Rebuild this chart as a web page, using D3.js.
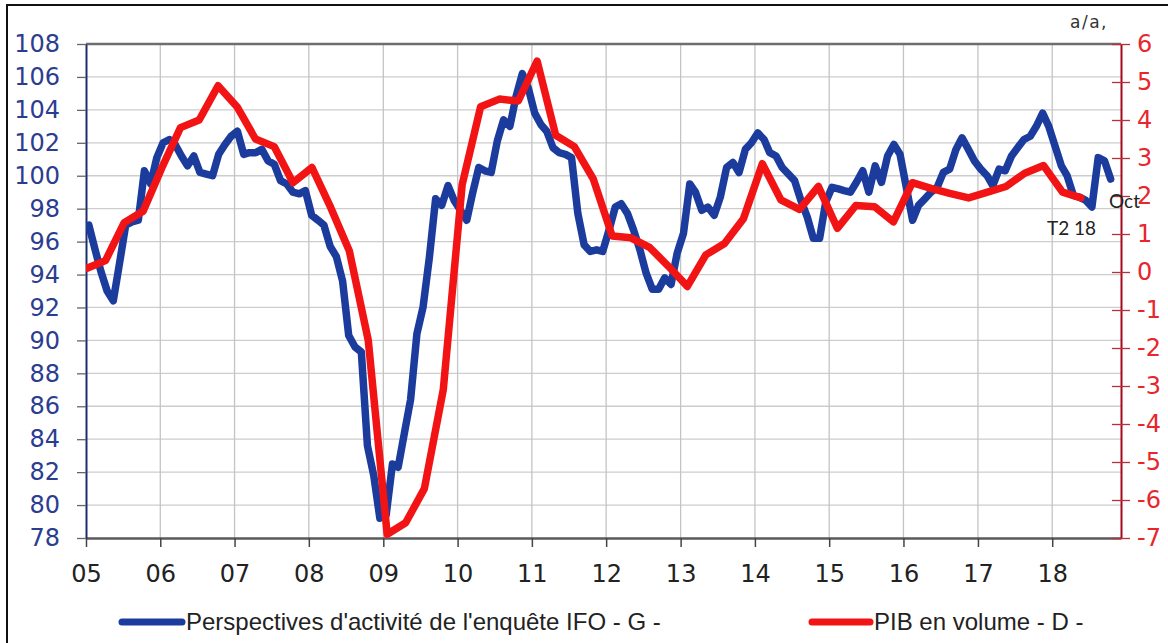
<!DOCTYPE html>
<html>
<head>
<meta charset="utf-8">
<script src="https://cdn.jsdelivr.net/npm/d3@7"></script>
<style>
  body { margin: 0; background: #fff; }
  svg { display: block; }
</style>
</head>
<body>
<div id="chart"></div>
<script>

/* DATA */

// year ticks on the bottom axis
const years = d3.range(2005, 2019);
const yearLabels = ["05", "06", "07", "08", "09", "10", "11", "12", "13", "14", "15", "16", "17", "18"];

// left axis (IFO) and right axis (GDP y/y)
const leftTicks = d3.range(78, 109, 2);
const rightTicks = d3.range(-7, 7);

// IFO business expectations, monthly, Jan 2005 -> Oct 2018
const ifo = [
  97.0, 95.5, 94.2, 93.0, 92.4, 94.7, 97.0, 97.2, 97.3, 100.3, 99.5, 101.1,
  102.0, 102.2, 101.9, 101.2, 100.6, 101.2, 100.2, 100.1, 100.0, 101.3, 101.9, 102.4,
  102.7, 101.3, 101.4, 101.4, 101.6, 100.9, 100.7, 99.7, 99.5, 99.0, 98.9, 99.1,
  97.6, 97.3, 97.0, 95.7, 95.1, 93.6, 90.3, 89.6, 89.3, 83.6, 81.8, 79.2,
  79.4, 82.5, 82.3, 84.4, 86.4, 90.4, 92.0, 95.0, 98.6, 98.2, 99.4, 98.5,
  97.9, 97.3, 98.9, 100.5, 100.3, 100.2, 102.1, 103.4, 103.0, 104.8, 106.2, 105.3,
  103.8, 103.1, 102.7, 101.7, 101.4, 101.3, 101.1, 97.7, 95.8, 95.4, 95.5, 95.4,
  96.7, 98.1, 98.3, 97.7, 96.7, 95.5, 94.1, 93.1, 93.1, 93.8, 93.4, 95.3,
  96.5, 99.5, 99.0, 97.9, 98.1, 97.6, 98.7, 100.5, 100.8, 100.2, 101.6, 102.0,
  102.6, 102.2, 101.4, 101.2, 100.5, 100.1, 99.7, 98.5, 97.5, 96.2, 96.2, 98.4,
  99.3, 99.2, 99.1, 99.0, 99.6, 100.3, 99.0, 100.6, 99.6, 101.2, 101.9, 101.3,
  99.3, 97.3, 98.2, 98.6, 99.0, 99.3, 100.2, 100.4, 101.6, 102.3, 101.6, 100.9,
  100.4, 100.0, 99.4, 100.4, 100.3, 101.2, 101.7, 102.2, 102.4, 103.0, 103.8, 103.0,
  101.8, 100.6, 100.0, 98.8, 98.7, 98.5, 98.1, 101.1, 100.9, 99.8
];

// GDP in volume, y/y %, quarterly, Q1 2005 -> Q2 2018
const pib = [
  0.1, 0.3, 1.3, 1.6,
  2.75, 3.8, 4.0, 4.9,
  4.35, 3.5, 3.3, 2.35,
  2.75, 1.7, 0.55, -1.8,
  -6.9, -6.6, -5.7, -3.1,
  2.3, 4.35, 4.55, 4.5,
  5.55, 3.6, 3.3, 2.45,
  0.95, 0.9, 0.65, 0.15,
  -0.38, 0.45, 0.75, 1.4,
  2.85, 1.9, 1.65, 2.25,
  1.15, 1.75, 1.72, 1.32,
  2.35, 2.2, 2.07, 1.95,
  2.1, 2.25, 2.6, 2.8,
  2.1, 1.95
];

const legendLabels = ["Perspectives d'activit\u00e9 de l'enqu\u00eate IFO - G -", "PIB en volume - D -"];

/* CONSTANTS */

const width = 1168;
const height = 643;
const plot = { left: 86, right: 1121, top: 44, bottom: 538 };

const blue = "#1b3c9d";
const red = "#f21414";
const tickFont = "'DejaVu Sans', Verdana, sans-serif";
const textFont = "'Liberation Sans', Arial, sans-serif";

const ifoData = ifo.map((v, i) => ({ date: new Date(2005, i, 15), value: v }));
const pibData = pib.map((v, i) => ({ date: new Date(2005, i * 3, 1), value: v }));

// SCALES =================================================

const xScale = d3.scaleTime()
  .domain([new Date(2005, 0, 1), new Date(2018, 11, 5)])
  .range([plot.left, plot.right]);

// quarterly series sits on its own (secondary) category axis
const xQuarter = d3.scaleTime()
  .domain([new Date(2005, 0, 1), new Date(2018, 3, 1)])
  .range([plot.left + 1, 1081]);

const yLeft = d3.scaleLinear()
  .domain([78, 108])
  .range([plot.bottom, plot.top]);

const yRight = d3.scaleLinear()
  .domain([-7, 6])
  .range([plot.bottom, plot.top]);

// SVG ====================================================

const svg = d3.select("#chart")
  .append("svg")
  .attr("width", width)
  .attr("height", height);

// outer frame
svg.append("rect")
  .attr("x", 7)
  .attr("y", 5)
  .attr("width", width + 20)
  .attr("height", height + 20)
  .attr("fill", "#fff")
  .attr("stroke", "#111")
  .attr("stroke-width", 2);

// GRID ---------------------------------------------------
svg.append("g")
  .selectAll("line")
  .data(leftTicks.slice(1, -1))
  .join("line")
  .attr("x1", plot.left)
  .attr("x2", plot.right)
  .attr("y1", d => yLeft(d))
  .attr("y2", d => yLeft(d))
  .attr("stroke", "#cdcdcd")
  .attr("stroke-width", 1.3);

svg.append("g")
  .selectAll("line")
  .data(years.slice(1))
  .join("line")
  .attr("x1", d => xScale(new Date(d, 0, 1)))
  .attr("x2", d => xScale(new Date(d, 0, 1)))
  .attr("y1", plot.top)
  .attr("y2", plot.bottom)
  .attr("stroke", "#c4c4c4")
  .attr("stroke-width", 1.3);

// top border of the plot
svg.append("line")
  .attr("x1", plot.left)
  .attr("x2", plot.right)
  .attr("y1", plot.top)
  .attr("y2", plot.top)
  .attr("stroke", "#6e6e6e")
  .attr("stroke-width", 2.5);

// AXES ---------------------------------------------------

const xAxis = d3.axisBottom(xScale)
  .tickValues(years.map(y => new Date(y, 0, 1)))
  .tickFormat((d, i) => yearLabels[i])
  .tickSizeInner(9)
  .tickSizeOuter(0)
  .tickPadding(18);

const gx = svg.append("g")
  .attr("transform", `translate(0, ${plot.bottom})`)
  .call(xAxis);
gx.select(".domain").attr("stroke", "#5a5a5a").attr("stroke-width", 2.5);
gx.selectAll(".tick line").attr("stroke", "#444").attr("stroke-width", 1.5);
gx.selectAll("text")
  .attr("fill", "#222")
  .style("font-family", tickFont)
  .style("font-size", "24px");

const yAxisLeft = d3.axisLeft(yLeft)
  .tickValues(leftTicks)
  .tickSizeInner(9)
  .tickSizeOuter(0)
  .tickPadding(17);

const gl = svg.append("g")
  .attr("transform", `translate(${plot.left}, 0)`)
  .call(yAxisLeft);
gl.select(".domain").attr("stroke", "#1f2f6e").attr("stroke-width", 2);
gl.selectAll(".tick line").attr("stroke", "#666").attr("stroke-width", 1.3);
gl.selectAll("text")
  .attr("fill", "#2b3d8f")
  .style("font-family", tickFont)
  .style("font-size", "24px");

const yAxisRight = d3.axisRight(yRight)
  .tickValues(rightTicks)
  .tickFormat(d => String(d))
  .tickSizeInner(9)
  .tickSizeOuter(0)
  .tickPadding(7);

const gr = svg.append("g")
  .attr("transform", `translate(${plot.right}, 0)`)
  .call(yAxisRight);
gr.select(".domain").attr("stroke", "#a8081c").attr("stroke-width", 2);
gr.selectAll(".tick line")
  .attr("x1", -9)
  .attr("stroke", "#b8303a")
  .attr("stroke-width", 1.3);
gr.selectAll("text")
  .attr("fill", "#e8262d")
  .style("font-family", tickFont)
  .style("font-size", "24px");

// LINES --------------------------------------------------

const ifoLine = d3.line()
  .x(d => xScale(d.date))
  .y(d => yLeft(d.value));

const pibLine = d3.line()
  .x(d => xQuarter(d.date))
  .y(d => yRight(d.value));

svg.append("defs")
  .append("clipPath")
  .attr("id", "plot-clip")
  .append("rect")
  .attr("x", plot.left)
  .attr("y", plot.top - 6)
  .attr("width", plot.right - plot.left)
  .attr("height", plot.bottom - plot.top + 6);

const lines = svg.append("g").attr("clip-path", "url(#plot-clip)");

lines.append("path")
  .datum(ifoData)
  .attr("d", ifoLine)
  .attr("fill", "none")
  .attr("stroke", blue)
  .attr("stroke-width", 7.5)
  .attr("stroke-linejoin", "round")
  .attr("stroke-linecap", "round");

lines.append("path")
  .datum(pibData)
  .attr("d", pibLine)
  .attr("fill", "none")
  .attr("stroke", red)
  .attr("stroke-width", 7.5)
  .attr("stroke-linejoin", "round")
  .attr("stroke-linecap", "round");

// ANNOTATIONS --------------------------------------------

svg.append("text")
  .attr("x", 1070)
  .attr("y", 28)
  .attr("fill", "#333")
  .style("font-family", tickFont)
  .style("font-size", "17px")
  .style("letter-spacing", "1.5px")
  .text("a/a,");

svg.append("text")
  .attr("x", 1109)
  .attr("y", 208)
  .attr("fill", "#222")
  .style("font-family", "Lato, sans-serif")
  .style("font-size", "19px")
  .text("Oct");

svg.append("text")
  .attr("x", 1047)
  .attr("y", 235)
  .attr("fill", "#222")
  .style("font-family", "Lato, sans-serif")
  .style("font-size", "19px")
  .text("T2 18");

// LEGEND -------------------------------------------------

const legend = svg.append("g");
const legendItems = [
  { x1: 122, x2: 182, color: blue, label: legendLabels[0] },
  { x1: 812, x2: 870, color: red, label: legendLabels[1] }
];

legend.selectAll("line")
  .data(legendItems)
  .join("line")
  .attr("x1", d => d.x1)
  .attr("x2", d => d.x2)
  .attr("y1", 622)
  .attr("y2", 622)
  .attr("stroke", d => d.color)
  .attr("stroke-width", 7)
  .attr("stroke-linecap", "round");

legend.selectAll("text")
  .data(legendItems)
  .join("text")
  .attr("x", d => d.x2 + 4)
  .attr("y", 630)
  .attr("fill", "#222")
  .style("font-family", textFont)
  .style("font-size", "24px")
  .text(d => d.label);

</script>
</body>
</html>
